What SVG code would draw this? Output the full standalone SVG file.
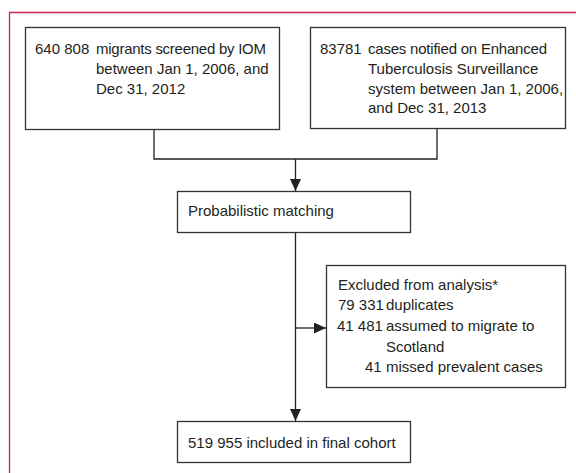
<svg xmlns="http://www.w3.org/2000/svg" width="576" height="473" viewBox="0 0 576 473">
<style>
.box{fill:#fff;stroke:#333;stroke-width:1.3}
.t{font-family:"Liberation Sans",Arial,sans-serif;font-size:15px;fill:#231f20}
.c{fill:none;stroke:#222;stroke-width:1.3}
.frame{fill:none;stroke:#c0264e;stroke-width:1.3}
</style>
<defs>
<marker id="ah" viewBox="0 0 12 11" refX="12" refY="5.5" markerWidth="12" markerHeight="11" markerUnits="userSpaceOnUse" orient="auto">
<path d="M0,0 L12,5.5 L0,11 z" fill="#222"/>
</marker>
</defs>
<rect width="576" height="473" fill="#fff"/>
<path class="frame" d="M9.5,473 V12.5 H576"/>
<g id="connectors">
<path class="c" d="M154,130 V159 H437 V129"/>
<path class="c" d="M295.5,159 V191" marker-end="url(#ah)"/>
<path class="c" d="M295.5,233 V421" marker-end="url(#ah)"/>
<path class="c" d="M295.5,328 H326" marker-end="url(#ah)"/>
</g>
<g id="node-iom">
<rect class="box" x="25.5" y="27.5" width="254" height="102"/>
<text class="t" x="35" y="54">640 808</text>
<text class="t" x="96" y="54" textLength="170">migrants screened by IOM</text>
<text class="t" x="96" y="74">between Jan 1, 2006, and</text>
<text class="t" x="96" y="94">Dec 31, 2012</text>
</g>
<g id="node-ets">
<rect class="box" x="310.5" y="27.5" width="255" height="101"/>
<text class="t" x="320" y="54">83781</text>
<text class="t" x="368" y="54" textLength="179">cases notified on Enhanced</text>
<text class="t" x="368" y="74">Tuberculosis Surveillance</text>
<text class="t" x="368" y="93.5">system between Jan 1, 2006,</text>
<text class="t" x="368" y="113">and Dec 31, 2013</text>
</g>
<g id="node-matching">
<rect class="box" x="177.5" y="191.5" width="233" height="41"/>
<text class="t" x="188" y="216">Probabilistic matching</text>
</g>
<g id="node-excluded">
<rect class="box" x="326.5" y="265.5" width="239" height="122"/>
<text class="t" x="338" y="290">Excluded from analysis*</text>
<text class="t" x="338" y="310">79 331</text>
<text class="t" x="386" y="310">duplicates</text>
<text class="t" x="337" y="331">41 481</text>
<text class="t" x="386" y="331">assumed to migrate to</text>
<text class="t" x="386" y="352">Scotland</text>
<text class="t" x="365" y="372">41</text>
<text class="t" x="386" y="372">missed prevalent cases</text>
</g>
<g id="node-final">
<rect class="box" x="177.5" y="421.5" width="233" height="41"/>
<text class="t" x="188" y="448">519 955 included in final cohort</text>
</g>
</svg>
